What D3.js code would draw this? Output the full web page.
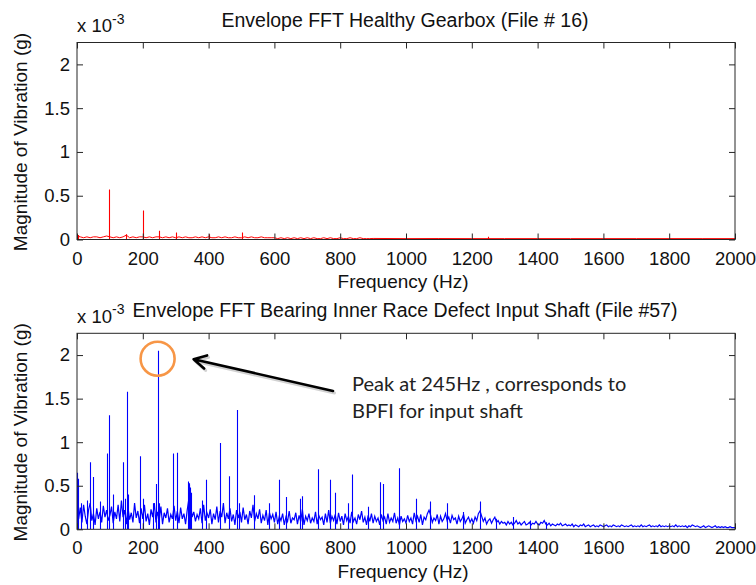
<!DOCTYPE html>
<html>
<head>
<meta charset="utf-8">
<script src="https://cdn.jsdelivr.net/npm/d3@7"></script>
<style>
  html, body { margin: 0; padding: 0; background: #fff; }
  svg { display: block; font-family: "Liberation Sans", Arial, sans-serif; }
</style>
</head>
<body>
<svg id="chart" width="756" height="585"></svg>
<script>
// ---- Data (magnitudes in units of 10^-3 g) ----
const freqTicks = [0, 200, 400, 600, 800, 1000, 1200, 1400, 1600, 1800, 2000];
const magTicks = [0, 0.5, 1, 1.5, 2];
const magMax = 2.25;
const freqMax = 2000;

// Healthy gearbox: floor every 10 Hz from 0 to 890 Hz
const healthyStep = 10;
const healthyFloor = [
  0.04,0.03,0.02,0.03,0.02,0.03,0.03,0.02,0.03,0.04,
  0.03,0.02,0.03,0.02,0.03,0.05,0.02,0.03,0.02,0.03,
  0.03,0.02,0.03,0.02,0.03,0.03,0.02,0.03,0.02,0.03,
  0.02,0.03,0.02,0.03,0.02,0.02,0.03,0.02,0.03,0.02,
  0.03,0.02,0.02,0.03,0.02,0.03,0.02,0.02,0.03,0.02,
  0.02,0.03,0.02,0.03,0.02,0.02,0.03,0.02,0.02,0.02,
  0.02,0.01,0.02,0.01,0.02,0.01,0.02,0.01,0.02,0.01,
  0.02,0.01,0.02,0.01,0.01,0.02,0.01,0.02,0.01,0.01,
  0.02,0.01,0.01,0.02,0.01,0.01,0.02,0.01,0.01,0.01
];
// Healthy gearbox: sparse high-frequency tail [Hz, value]
const healthyTail = [
  [900,0.012],[1000,0.010],[1100,0.011],[1200,0.010],[1300,0.010],[1400,0.010],
  [1500,0.010],[1600,0.010],[1700,0.010],[1800,0.010],[1900,0.010],[2000,0.010]
];
// Healthy gearbox: discrete spectral lines [Hz, value]
const healthyPeaks = [
  [2,0.05],[98,0.57],[150,0.06],[200,0.33],[250,0.10],[300,0.08],
  [400,0.06],[500,0.08],[1250,0.03]
];

// Inner race defect: floor every 5 Hz from 0 to 2000 Hz
const innerRaceStep = 5;
const innerRaceFloor = [
  0.30,0.12,0.25,0.08,0.28,0.15,0.06,0.22,0.30,0.10,0.18,0.05,0.24,0.12,0.20,0.08,0.27,0.14,0.22,0.10,
  0.16,0.26,0.07,0.20,0.12,0.28,0.09,0.33,0.14,0.22,0.06,0.25,0.11,0.19,0.08,0.30,0.13,0.21,0.07,0.24,
  0.12,0.28,0.09,0.18,0.05,0.23,0.14,0.30,0.08,0.20,0.11,0.26,0.06,0.19,0.13,0.24,0.08,0.17,0.12,0.27,
  0.10,0.21,0.07,0.25,0.12,0.18,0.06,0.22,0.35,0.30,0.14,0.20,0.09,0.17,0.12,0.24,0.07,0.28,0.10,0.19,
  0.13,0.23,0.06,0.18,0.11,0.26,0.08,0.21,0.14,0.30,0.07,0.19,0.12,0.24,0.09,0.17,0.05,0.22,0.13,0.20,
  0.08,0.25,0.11,0.17,0.06,0.21,0.13,0.28,0.09,0.18,0.12,0.23,0.07,0.16,0.10,0.22,0.05,0.19,0.12,0.17,
  0.08,0.20,0.06,0.15,0.10,0.18,0.05,0.14,0.09,0.21,0.07,0.13,0.11,0.19,0.06,0.16,0.09,0.23,0.05,0.15,
  0.10,0.18,0.07,0.13,0.09,0.20,0.06,0.16,0.11,0.14,0.05,0.18,0.08,0.22,0.07,0.15,0.10,0.17,0.06,0.19,
  0.09,0.15,0.05,0.18,0.10,0.15,0.07,0.20,0.09,0.13,0.06,0.17,0.11,0.21,0.08,0.14,0.05,0.16,0.09,0.18,
  0.07,0.15,0.09,0.13,0.05,0.17,0.10,0.14,0.06,0.18,0.08,0.13,0.09,0.19,0.07,0.13,0.05,0.15,0.09,0.12,
  0.07,0.16,0.09,0.13,0.06,0.19,0.10,0.15,0.08,0.17,0.05,0.14,0.11,0.18,0.22,0.16,0.08,0.13,0.10,0.17,
  0.06,0.15,0.09,0.12,0.18,0.10,0.14,0.07,0.16,0.11,0.13,0.06,0.15,0.09,0.12,0.17,0.07,0.11,0.14,0.08,
  0.12,0.07,0.14,0.10,0.18,0.21,0.15,0.09,0.13,0.06,0.10,0.12,0.07,0.11,0.14,0.08,0.10,0.06,0.09,0.07,
  0.08,0.05,0.09,0.06,0.08,0.05,0.07,0.10,0.06,0.08,0.05,0.07,0.09,0.05,0.06,0.08,0.05,0.07,0.06,0.09,
  0.06,0.05,0.08,0.07,0.10,0.06,0.05,0.07,0.04,0.06,0.05,0.04,0.06,0.05,0.07,0.04,0.05,0.06,0.04,0.05,
  0.04,0.06,0.03,0.05,0.04,0.03,0.05,0.04,0.06,0.03,0.04,0.05,0.03,0.04,0.05,0.03,0.04,0.03,0.05,0.04,
  0.03,0.04,0.05,0.03,0.04,0.03,0.05,0.04,0.03,0.04,0.03,0.05,0.04,0.03,0.04,0.03,0.04,0.05,0.03,0.04,
  0.03,0.04,0.03,0.05,0.03,0.04,0.03,0.04,0.05,0.03,0.04,0.03,0.04,0.03,0.05,0.03,0.04,0.03,0.04,0.03,
  0.04,0.03,0.04,0.03,0.05,0.03,0.04,0.03,0.04,0.03,0.04,0.02,0.04,0.03,0.05,0.04,0.03,0.04,0.03,0.02,
  0.03,0.04,0.02,0.03,0.04,0.03,0.02,0.03,0.04,0.02,0.03,0.02,0.03,0.02,0.03,0.02,0.02,0.03,0.02,0.02,
  0.02
];
// Inner race defect: discrete spectral lines [Hz, value]
const innerRacePeaks = [
  [1,0.65],[3,0.58],[12,0.30],[31,0.33],[40,0.77],[50,0.60],[70,0.32],[90,0.87],[98,1.31],
  [108,0.40],[141,0.77],[146,0.35],[151,1.58],[156,0.40],[191,0.84],[200,0.35],[231,0.30],
  [240,0.52],[245,2.05],[250,0.30],[293,0.87],[303,0.88],[337,0.55],[339,0.53],[341,0.51],
  [343,0.48],[346,0.42],[379,0.33],[391,0.57],[435,0.99],[461,0.61],[487,1.37],[492,0.30],
  [538,0.39],[585,0.30],[614,0.57],[635,0.37],[678,0.35],[683,0.38],[734,0.69],[768,0.57],
  [784,0.42],[823,0.30],[835,0.63],[885,0.26],[921,0.54],[929,0.52],[979,0.70],[1029,0.35],
  [1073,0.32],[1124,0.30],[1174,0.20],[1225,0.32],[1273,0.12],[1324,0.14],[1377,0.10],[1427,0.08]
];

const peakFreq = 245;
const peakValue = 2.05;
const noteLines = ["Peak at 245Hz , corresponds to", "BPFI for input shaft"];

// ---- Series assembly ----
function floorSeries(floor, step, extra) {
  const pts = floor.map((v, i) => [i * step, v]);
  return pts.concat(extra).sort((a, b) => a[0] - b[0]);
}

// ---- Layout ----
const svg = d3.select("#chart");
const plotLeft = 77, plotRight = 735;
const panels = [
  { top: 42.5, bottom: 239.5, color: "#ff0000", width: 1,
    floor: floorSeries(healthyFloor, healthyStep, healthyTail), peaks: healthyPeaks,
    title: "Envelope FFT Healthy Gearbox (File # 16)" },
  { top: 333.3, bottom: 529.3, color: "#0000ff", width: 1.2,
    floor: floorSeries(innerRaceFloor, innerRaceStep, []), peaks: innerRacePeaks,
    title: "Envelope FFT Bearing Inner Race Defect Input Shaft (File #57)" }
];
const axisColor = "#262626";
const textColor = "#111";

const x = d3.scaleLinear().domain([0, freqMax]).range([plotLeft, plotRight]);

panels.forEach((p, idx) => {
  const y = d3.scaleLinear().domain([0, magMax]).range([p.bottom, p.top]);
  p.y = y;
  const g = svg.append("g");

  const clipId = "clip" + idx;
  svg.append("clipPath").attr("id", clipId)
    .append("rect").attr("x", plotLeft).attr("y", p.top)
    .attr("width", plotRight - plotLeft).attr("height", p.bottom - p.top);

  const trace = g.append("g").attr("clip-path", `url(#${clipId})`);

  // broadband floor
  trace.append("path")
    .datum(p.floor)
    .attr("fill", "none")
    .attr("stroke", p.color)
    .attr("stroke-width", p.width)
    .attr("d", d3.line().x(d => x(d[0])).y(d => y(d[1])));

  // discrete spectral lines
  trace.selectAll("line.peak").data(p.peaks).join("line")
    .attr("class", "peak")
    .attr("x1", d => Math.round(x(d[0])) + 0.5).attr("x2", d => Math.round(x(d[0])) + 0.5)
    .attr("y1", y(0)).attr("y2", d => y(d[1]))
    .attr("stroke", p.color).attr("stroke-width", 1.1);

  // axes with inward ticks on all four sides
  const fmt = d => String(d);
  const axB = g.append("g").attr("transform", `translate(0,${p.bottom})`)
    .call(d3.axisBottom(x).tickValues(freqTicks).tickSizeInner(-6).tickSizeOuter(0).tickPadding(12).tickFormat(fmt));
  const axT = g.append("g").attr("transform", `translate(0,${p.top})`)
    .call(d3.axisTop(x).tickValues(freqTicks).tickSizeInner(-6).tickSizeOuter(0).tickFormat(""));
  const axL = g.append("g").attr("transform", `translate(${plotLeft},0)`)
    .call(d3.axisLeft(y).tickValues(magTicks).tickSizeInner(-6).tickSizeOuter(0).tickPadding(7).tickFormat(fmt));
  const axR = g.append("g").attr("transform", `translate(${plotRight},0)`)
    .call(d3.axisRight(y).tickValues(magTicks).tickSizeInner(-6).tickSizeOuter(0).tickFormat(""));
  [axB, axT, axL, axR].forEach(a => {
    a.select(".domain").remove();
    a.selectAll(".tick line").attr("stroke", axisColor);
    a.selectAll(".tick text").attr("fill", textColor)
      .style("font-size", "18.5px")
      .style("font-family", '"Liberation Sans", Arial, sans-serif');
  });

  // frame
  g.append("rect")
    .attr("x", plotLeft).attr("y", p.top)
    .attr("width", plotRight - plotLeft).attr("height", p.bottom - p.top)
    .attr("fill", "none").attr("stroke", axisColor).attr("stroke-width", 1);

  // exponent label
  const ex = g.append("text").attr("x", plotLeft).attr("y", p.top - 10.5)
    .attr("fill", textColor).style("font-size", "18.5px");
  ex.append("tspan").text("x 10");
  ex.append("tspan").attr("dy", -8.5).style("font-size", "14px").text("-3");

  // title
  g.append("text").attr("x", (plotLeft + plotRight) / 2 - 1).attr("y", p.top - 16)
    .attr("text-anchor", "middle").attr("fill", textColor)
    .style("font-size", "19.5px").text(p.title);

  // axis labels
  g.append("text").attr("x", (plotLeft + plotRight) / 2 - 3).attr("y", p.bottom + 48.5)
    .attr("text-anchor", "middle").attr("fill", textColor)
    .style("font-size", "19px").text("Frequency (Hz)");
  g.append("text")
    .attr("transform", `translate(26.5,${(p.top + p.bottom) / 2 + 1}) rotate(-90)`)
    .attr("text-anchor", "middle").attr("fill", textColor)
    .style("font-size", "19px").text("Magnitude of Vibration (g)");
});

// ---- Callout on the dominant inner-race line ----
const yb = panels[1].y;
const cx = x(peakFreq), cy = yb(peakValue) + 8;
svg.append("circle").attr("cx", cx).attr("cy", cy).attr("r", 17)
  .attr("fill", "none").attr("stroke", "#f79646").attr("stroke-width", 2.6);

const noteX = 352, noteY = 391;
const tip = [cx + 36, cy + 0.5];
const tail = [noteX - 19, noteY];
const ang = Math.atan2(tail[1] - tip[1], tail[0] - tip[0]);
const arm = 14, spread = 0.5;
const arrowPath = `M${tail[0]},${tail[1]}L${tip[0]},${tip[1]}` +
  `M${tip[0] + arm * Math.cos(ang - spread)},${tip[1] + arm * Math.sin(ang - spread)}` +
  `L${tip[0]},${tip[1]}` +
  `L${tip[0] + arm * Math.cos(ang + spread)},${tip[1] + arm * Math.sin(ang + spread)}`;
svg.append("path").attr("d", arrowPath).attr("transform", "translate(1.5,2)")
  .attr("fill", "none").attr("stroke", "#000").attr("stroke-opacity", 0.18)
  .attr("stroke-width", 3).attr("stroke-linecap", "round").attr("stroke-linejoin", "round");
svg.append("path").attr("d", arrowPath)
  .attr("fill", "none").attr("stroke", "#000").attr("stroke-width", 2.6)
  .attr("stroke-linecap", "round").attr("stroke-linejoin", "round");

const note = svg.append("text").attr("fill", "#222")
  .style("font-family", "Lato, 'Open Sans', sans-serif").style("font-size", "20px");
noteLines.forEach((t, i) => {
  note.append("tspan").attr("x", noteX).attr("y", noteY + i * 27).text(t);
});
</script>
</body>
</html>
